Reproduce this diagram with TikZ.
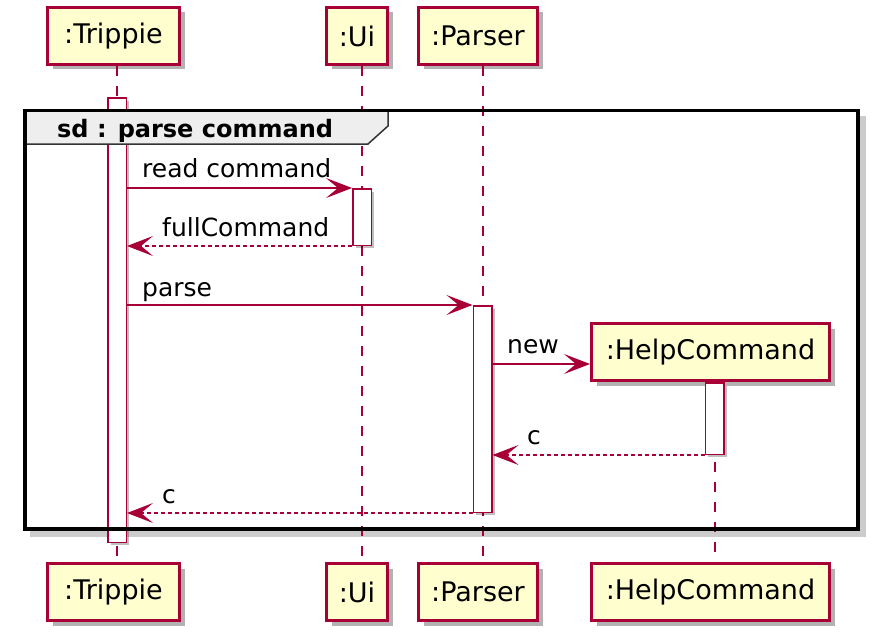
\documentclass[tikz,border=0pt]{standalone}
\usepackage{fontspec}
\setmainfont{DejaVu Sans}
\usetikzlibrary{arrows.meta,shadows}
\definecolor{umlred}{HTML}{A80036}
\definecolor{umlfill}{HTML}{FEFECE}
\definecolor{tabgray}{HTML}{EEEEEE}
\begin{document}
\begin{tikzpicture}[x=1pt,y=-1pt,
  font=\fontsize{25}{29}\selectfont,
  part/.style={draw=umlred, fill=umlfill, line width=3pt, inner sep=0pt,
    minimum height=57pt, font=\fontsize{27}{31}\selectfont,
    drop shadow={shadow xshift=5pt, shadow yshift=-5pt, opacity=0.3, fill=black}},
  bar/.style={draw=umlred, fill=white, line width=1.5pt, inner sep=0pt, minimum width=18.5pt,
    drop shadow={shadow xshift=3pt, shadow yshift=-3pt, opacity=0.25, fill=black}},
  life/.style={draw=umlred, line width=2pt, dash pattern=on 10pt off 10pt},
  msg/.style={draw=umlred, line width=1.5pt, -{Stealth[length=26pt,width=20pt,inset=12pt]}},
  ret/.style={msg, dash pattern=on 4pt off 3pt},
  lbl/.style={anchor=base west, inner sep=0pt},
]
\useasboundingbox (0,0) rectangle (878,642);

% frame shadow
\draw[black, opacity=0.2, line width=6pt] (863,116) -- (863,534) -- (30,534);

% participants
\node[part, minimum width=132pt] (tT) at (113.5,36) {:Trippie};
\node[part, minimum width=61pt]  (tU) at (357,36) {:Ui};
\node[part, minimum width=119pt] (tP) at (478,36) {:Parser};
\node[part, minimum width=238pt] (hc) at (710.5,352) {:HelpCommand};
\node[part, minimum width=132pt] (bT) at (113.5,592) {:Trippie};
\node[part, minimum width=61pt]  (bU) at (357,592) {:Ui};
\node[part, minimum width=119pt] (bP) at (478,592) {:Parser};
\node[part, minimum width=238pt] (bH) at (710.5,592) {:HelpCommand};

% lifeline x positions
\coordinate (xT) at (117,0);
\coordinate (xU) at (362,0);
\coordinate (xP) at (482.5,0);
\coordinate (xH) at (714.5,0);

% lifelines
\draw[life] (tT.south -| xT) -- (bT.north -| xT);
\draw[life] (tU.south -| xU) -- (bU.north -| xU);
\draw[life] (tP.south -| xP) -- (bP.north -| xP);
\draw[life] (hc.south -| xH) -- (bH.north -| xH);

% activation bars
\node[bar, minimum height=444.5pt] (aT) at (117,320) {};
\node[bar, minimum height=56.5pt]  (aU) at (362,217) {};
\node[bar, minimum height=206.5pt] (aP) at (482.5,409) {};
\node[bar, minimum height=71.5pt]  (aH) at (714.5,418.5) {};

% messages
\draw[msg] (aT.east |- aU.north west) -- (aU.north west);
\node[lbl] (l1) at (142,177) {read command};
\draw[ret] (aU.south west) -- (aT.east |- aU.south west);
\node[lbl] (l2) at (162,236) {fullCommand};
\draw[msg] (aT.east |- aP.north west) -- (aP.north west);
\node[lbl] (l3) at (142,296) {parse};
\coordinate (newy) at (0,364);
\draw[msg] (aP.east |- newy) -- (hc.west |- newy);
\node[lbl] (l4) at (507,353) {new};
\draw[ret] (aH.south west) -- (aP.east |- aH.south west);
\node[lbl] (l5) at (527,444) {c};
\draw[ret] (aP.south west) -- (aT.east |- aP.south west);
\node[lbl] (l6) at (162,503) {c};

% frame
\draw[fill=tabgray, draw=black!80, line width=1.5pt]
  (25,110.5) -- (388,110.5) -- (388,126) -- (368,144) -- (25,144) -- cycle;
\node[lbl, font=\fontsize{24}{28}\selectfont\bfseries] (sd) at (57,137) {sd : parse command};
\draw[black, line width=3.5pt] (25,110.5) rectangle (858,529);
\end{tikzpicture}
\end{document}
